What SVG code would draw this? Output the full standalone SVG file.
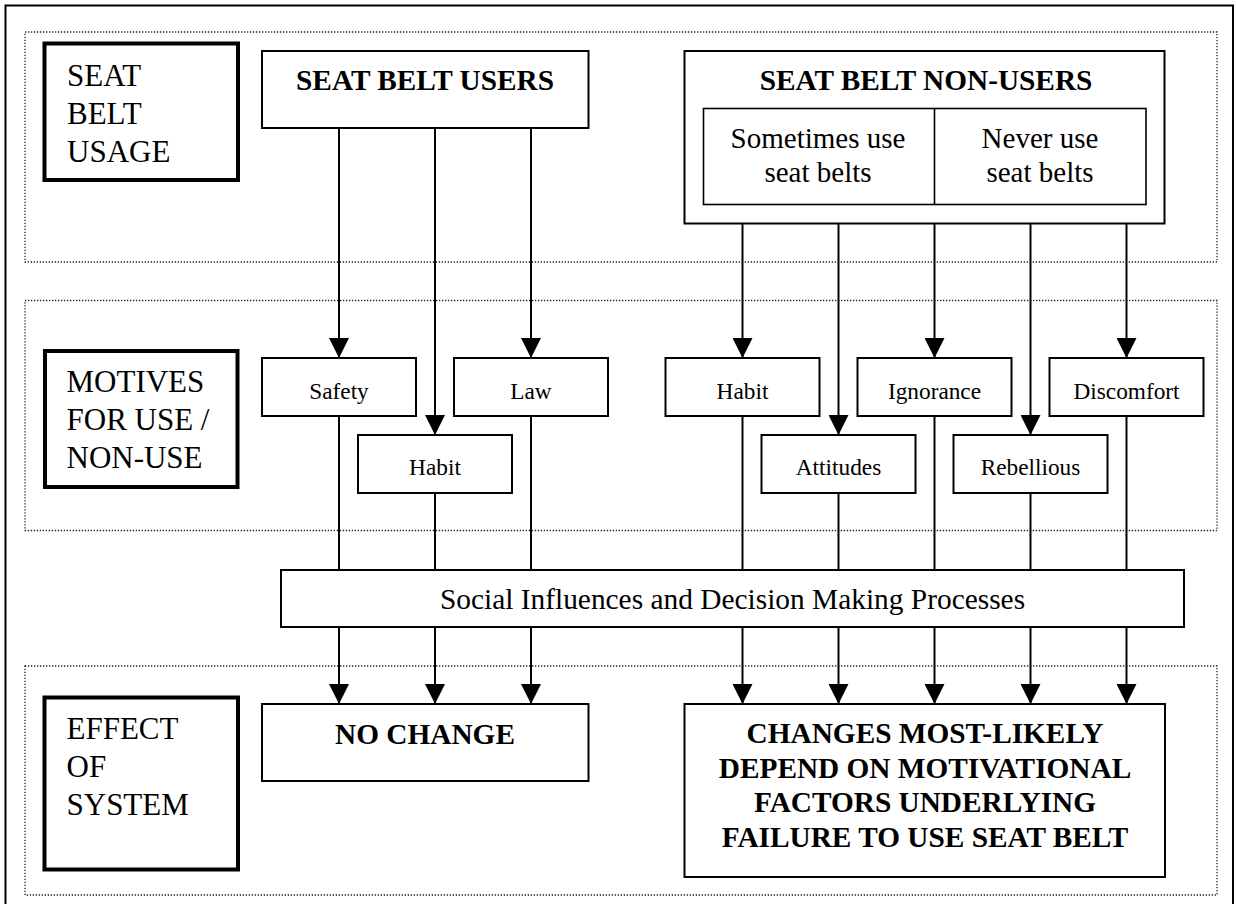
<svg xmlns="http://www.w3.org/2000/svg" width="1237" height="904" viewBox="0 0 1237 904">
<style>
.bg{fill:#fff}
.frame{fill:none;stroke:#000;stroke-width:2}
.zone{fill:none;stroke:#222;stroke-width:1.3;stroke-dasharray:1.3 1.7}
.label{fill:#fff;stroke:#000;stroke-width:4}
.box{fill:#fff;stroke:#000;stroke-width:2}
.thin{fill:none;stroke:#000;stroke-width:1.6}
.conn line{stroke:#000;stroke-width:2}
text{font-family:"Liberation Serif","Times New Roman",serif;fill:#000}
.big{font-size:31px}
.mid{font-size:29px}
.small{font-size:23.3px;text-anchor:middle}
.bold{font-size:29.3px;font-weight:bold;text-anchor:middle}
.c{text-anchor:middle}
</style>
<defs>
<marker id="ah" markerUnits="userSpaceOnUse" markerWidth="20" markerHeight="20" viewBox="0 0 20 20" refX="20" refY="10" orient="auto">
<path d="M0,0 L20,10 L0,20 z" fill="#000"/>
</marker>
</defs>
<rect class="bg" x="0" y="0" width="1237" height="904"/>
<rect class="frame" x="5.5" y="5.5" width="1227.5" height="910"/>
<g id="zones">
<rect class="zone" x="25" y="32" width="1192" height="230"/>
<rect class="zone" x="25" y="300.5" width="1192" height="230"/>
<rect class="zone" x="25" y="666" width="1192" height="229"/>
</g>
<g class="conn" id="connectors">
<line x1="339" y1="128" x2="339" y2="358" marker-end="url(#ah)"/>
<line x1="435" y1="128" x2="435" y2="435" marker-end="url(#ah)"/>
<line x1="531" y1="128" x2="531" y2="358" marker-end="url(#ah)"/>
<line x1="742.5" y1="223" x2="742.5" y2="358" marker-end="url(#ah)"/>
<line x1="838.5" y1="223" x2="838.5" y2="435" marker-end="url(#ah)"/>
<line x1="934.5" y1="223" x2="934.5" y2="358" marker-end="url(#ah)"/>
<line x1="1030.5" y1="223" x2="1030.5" y2="435" marker-end="url(#ah)"/>
<line x1="1126.5" y1="223" x2="1126.5" y2="358" marker-end="url(#ah)"/>
<line x1="339" y1="416" x2="339" y2="570"/>
<line x1="435" y1="493" x2="435" y2="570"/>
<line x1="531" y1="416" x2="531" y2="570"/>
<line x1="742.5" y1="416" x2="742.5" y2="570"/>
<line x1="838.5" y1="493" x2="838.5" y2="570"/>
<line x1="934.5" y1="416" x2="934.5" y2="570"/>
<line x1="1030.5" y1="493" x2="1030.5" y2="570"/>
<line x1="1126.5" y1="416" x2="1126.5" y2="570"/>
<line x1="339" y1="627" x2="339" y2="704" marker-end="url(#ah)"/>
<line x1="435" y1="627" x2="435" y2="704" marker-end="url(#ah)"/>
<line x1="531" y1="627" x2="531" y2="704" marker-end="url(#ah)"/>
<line x1="742.5" y1="627" x2="742.5" y2="704" marker-end="url(#ah)"/>
<line x1="838.5" y1="627" x2="838.5" y2="704" marker-end="url(#ah)"/>
<line x1="934.5" y1="627" x2="934.5" y2="704" marker-end="url(#ah)"/>
<line x1="1030.5" y1="627" x2="1030.5" y2="704" marker-end="url(#ah)"/>
<line x1="1126.5" y1="627" x2="1126.5" y2="704" marker-end="url(#ah)"/>
</g>
<g id="seat-belt-usage">
<rect class="label" x="44.5" y="43.5" width="193.5" height="136.5"/>
<text class="big" x="67" y="86">SEAT</text>
<text class="big" x="67" y="124">BELT</text>
<text class="big" x="67" y="162">USAGE</text>
</g>
<g id="users">
<rect class="box" x="262" y="51" width="326.5" height="77"/>
<text class="bold" x="425" y="90">SEAT BELT USERS</text>
</g>
<g id="non-users">
<rect class="box" x="684.5" y="51" width="480" height="172.5"/>
<text class="bold" x="926" y="90">SEAT BELT NON-USERS</text>
<rect class="thin" x="703.5" y="108.5" width="442.5" height="96"/>
<line x1="934.5" y1="108.5" x2="934.5" y2="204.5" stroke="#000" stroke-width="1.6"/>
<text class="mid c" x="818" y="148">Sometimes use</text>
<text class="mid c" x="818" y="182">seat belts</text>
<text class="mid c" x="1040" y="148">Never use</text>
<text class="mid c" x="1040" y="182">seat belts</text>
</g>
<g id="motives">
<rect class="label" x="45" y="351" width="192.5" height="136"/>
<text class="big" x="66.5" y="392">MOTIVES</text>
<text class="big" x="66.5" y="430">FOR USE /</text>
<text class="big" x="66.5" y="468">NON-USE</text>
</g>
<g id="safety"><rect class="box" x="262" y="358" width="154" height="58"/><text class="small" x="339" y="398.5">Safety</text></g>
<g id="habit-users"><rect class="box" x="358" y="435" width="154" height="58"/><text class="small" x="435" y="475">Habit</text></g>
<g id="law"><rect class="box" x="454" y="358" width="154" height="58"/><text class="small" x="531" y="398.5">Law</text></g>
<g id="habit-nonusers"><rect class="box" x="665.5" y="358" width="154" height="58"/><text class="small" x="742.5" y="398.5">Habit</text></g>
<g id="attitudes"><rect class="box" x="761.5" y="435" width="154" height="58"/><text class="small" x="838.5" y="475">Attitudes</text></g>
<g id="ignorance"><rect class="box" x="857.5" y="358" width="154" height="58"/><text class="small" x="934.5" y="398.5">Ignorance</text></g>
<g id="rebellious"><rect class="box" x="953.5" y="435" width="154" height="58"/><text class="small" x="1030.5" y="475">Rebellious</text></g>
<g id="discomfort"><rect class="box" x="1049.5" y="358" width="154" height="58"/><text class="small" x="1126.5" y="398.5">Discomfort</text></g>
<g id="social">
<rect class="box" x="281" y="570" width="903" height="57"/>
<text class="c" style="font-size:29.4px" x="732.5" y="608.5">Social Influences and Decision Making Processes</text>
</g>
<g id="effect">
<rect class="label" x="44.5" y="697.5" width="193.5" height="172"/>
<text class="big" x="66.5" y="738.5">EFFECT</text>
<text class="big" x="66.5" y="776.5">OF</text>
<text class="big" x="66.5" y="814.5">SYSTEM</text>
</g>
<g id="no-change">
<rect class="box" x="262" y="704" width="326.5" height="77"/>
<text class="bold" x="425" y="743.5">NO CHANGE</text>
</g>
<g id="changes">
<rect class="box" x="684.5" y="704" width="480.5" height="173"/>
<text class="bold" x="925" y="743">CHANGES MOST-LIKELY</text>
<text class="bold" x="925" y="778">DEPEND ON MOTIVATIONAL</text>
<text class="bold" x="925" y="812">FACTORS UNDERLYING</text>
<text class="bold" x="925" y="847">FAILURE TO USE SEAT BELT</text>
</g>
</svg>
